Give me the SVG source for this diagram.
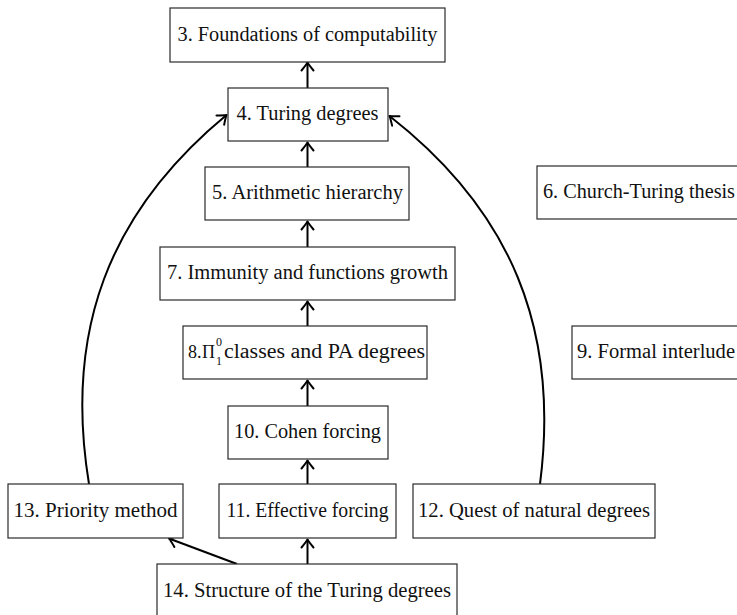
<svg xmlns="http://www.w3.org/2000/svg" width="737" height="615" viewBox="0 0 737 615">
  <defs>
    <marker id="tip" markerUnits="userSpaceOnUse" markerWidth="16" markerHeight="16" viewBox="-10 -8 12 16" refX="0" refY="0" orient="auto">
      <path d="M-8,-6 Q-2.5,-1.5 0,0 Q-2.5,1.5 -8,6" fill="none" stroke="#000" stroke-width="2" stroke-linecap="round" stroke-linejoin="round"/>
    </marker>
    <style>
      .box { fill: #fff; stroke: #2a2a2a; stroke-width: 1.2; }
      .lbl { font-family: "Liberation Serif", "DejaVu Serif", serif; font-size: 20px; fill: #111; }
      .mid { text-anchor: middle; }
      .sm { font-size: 12px; }
      .nr { font-size: 18px; }
      .edge { fill: none; stroke: #000; stroke-width: 2; marker-end: url(#tip); }
    </style>
  </defs>

  <rect width="737" height="615" fill="#fff"/>

  <!-- connectors -->
  <g id="edges">
    <path class="edge" d="M307.5,88 V62.5"/>
    <path class="edge" d="M307.5,167 V142.5"/>
    <path class="edge" d="M307.5,247 V221.5"/>
    <path class="edge" d="M307.5,326 V301.5"/>
    <path class="edge" d="M307.5,406 V380.5"/>
    <path class="edge" d="M307.5,484 V460.5"/>
    <path class="edge" d="M307.5,564 V539.5"/>
    <path class="edge" d="M237,564 L169,538.5"/>
    <path class="edge" d="M89,484 C64,332 108,213 226.5,115"/>
    <path class="edge" d="M540,484 C560,329 511,211 389.5,116"/>
  </g>

  <!-- nodes -->
  <g id="n3">
    <rect class="box" x="170" y="8" width="275" height="54"/>
    <text class="lbl mid" x="307.5" y="41" textLength="260" lengthAdjust="spacingAndGlyphs">3. Foundations of computability</text>
  </g>
  <g id="n4">
    <rect class="box" x="228" y="88" width="160" height="53"/>
    <text class="lbl mid" x="307.5" y="120" textLength="142" lengthAdjust="spacingAndGlyphs">4. Turing degrees</text>
  </g>
  <g id="n5">
    <rect class="box" x="205" y="167" width="204" height="53"/>
    <text class="lbl mid" x="307.5" y="199" textLength="191" lengthAdjust="spacingAndGlyphs">5. Arithmetic hierarchy</text>
  </g>
  <g id="n6">
    <rect class="box" x="537" y="166" width="206" height="53"/>
    <text class="lbl" x="543" y="198" textLength="192" lengthAdjust="spacingAndGlyphs">6. Church-Turing thesis</text>
  </g>
  <g id="n7">
    <rect class="box" x="160" y="247" width="295" height="53"/>
    <text class="lbl mid" x="307.5" y="279" textLength="281" lengthAdjust="spacingAndGlyphs">7. Immunity and functions growth</text>
  </g>
  <g id="n8">
    <rect class="box" x="183" y="326" width="244" height="53"/>
    <!-- Π with superscript 0 and subscript 1 -->
    <text class="lbl" x="188" y="358"><tspan class="nr">8.</tspan><tspan class="nr" x="202">Π</tspan><tspan class="sm" x="216" dy="-12">0</tspan><tspan class="sm" x="216" dy="19">1</tspan><tspan x="224" dy="-7" textLength="201" lengthAdjust="spacingAndGlyphs">classes and PA degrees</tspan></text>
  </g>
  <g id="n9">
    <rect class="box" x="572" y="326" width="172" height="53"/>
    <text class="lbl" x="577" y="358" textLength="158" lengthAdjust="spacingAndGlyphs">9. Formal interlude</text>
  </g>
  <g id="n10">
    <rect class="box" x="228" y="406" width="160" height="53"/>
    <text class="lbl mid" x="307.5" y="438" textLength="147" lengthAdjust="spacingAndGlyphs">10. Cohen forcing</text>
  </g>
  <g id="n11">
    <rect class="box" x="219" y="484" width="177" height="54"/>
    <text class="lbl mid" x="307.5" y="517" textLength="162" lengthAdjust="spacingAndGlyphs">11. Effective forcing</text>
  </g>
  <g id="n12">
    <rect class="box" x="413" y="484" width="242" height="54"/>
    <text class="lbl mid" x="534" y="517" textLength="232" lengthAdjust="spacingAndGlyphs">12. Quest of natural degrees</text>
  </g>
  <g id="n13">
    <rect class="box" x="8" y="484" width="175" height="54"/>
    <text class="lbl mid" x="95.5" y="517" textLength="164" lengthAdjust="spacingAndGlyphs">13. Priority method</text>
  </g>
  <g id="n14">
    <rect class="box" x="157" y="564" width="300" height="54"/>
    <text class="lbl mid" x="307" y="597" textLength="288" lengthAdjust="spacingAndGlyphs">14. Structure of the Turing degrees</text>
  </g>
</svg>
